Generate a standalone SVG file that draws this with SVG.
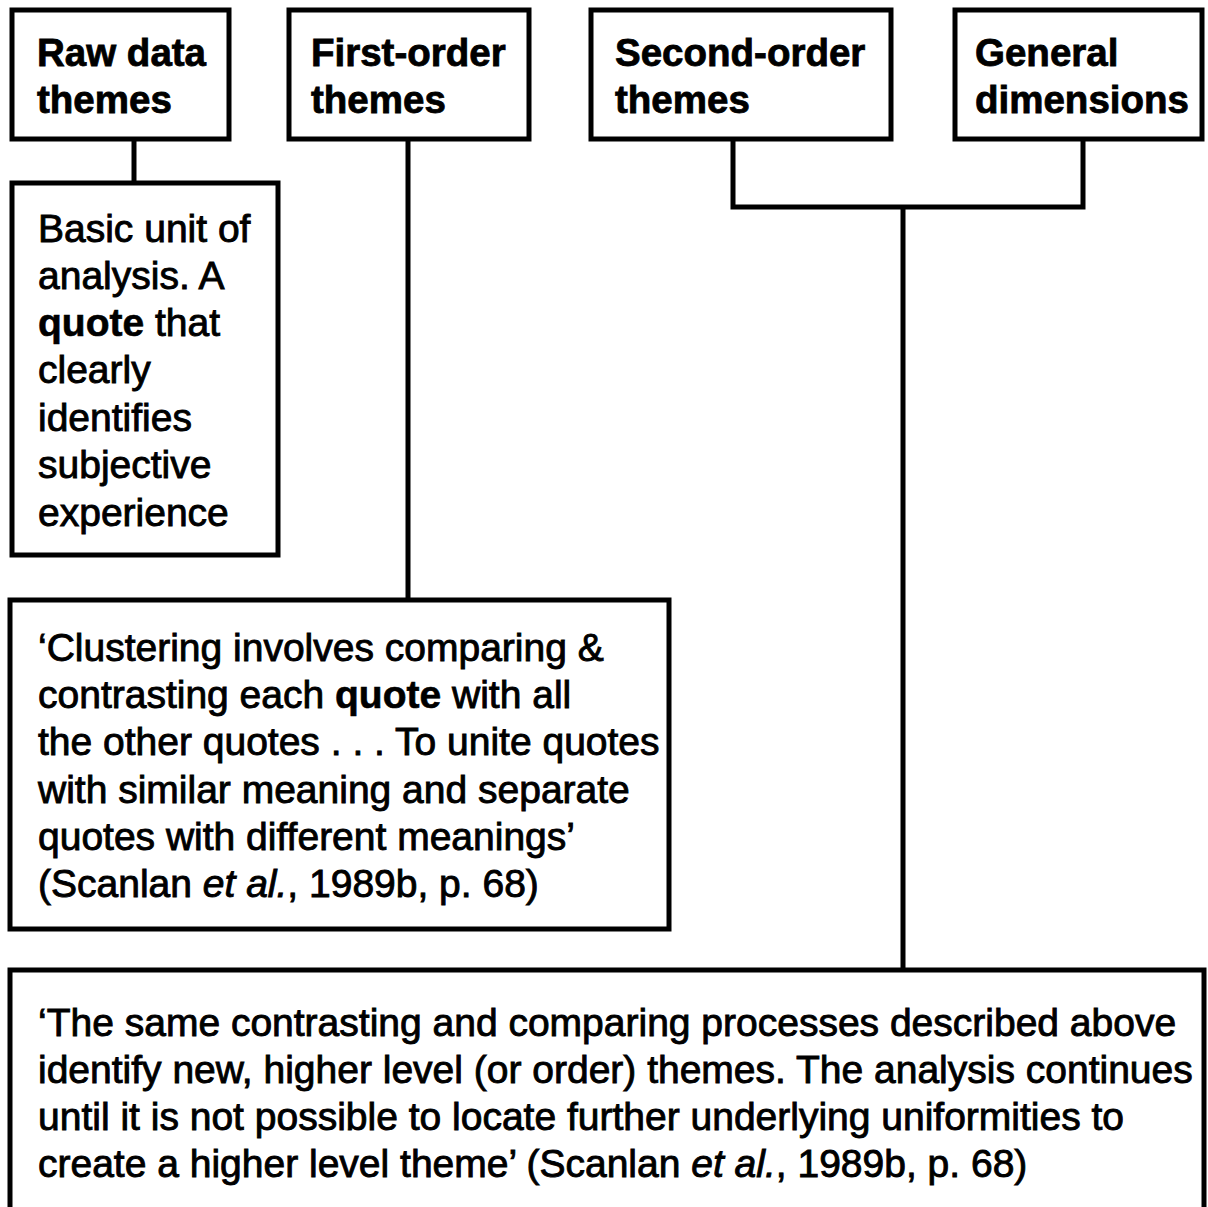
<svg xmlns="http://www.w3.org/2000/svg" width="1208" height="1207" viewBox="0 0 1208 1207">
<style>
.box{fill:#fff;stroke:#000;stroke-width:5}
.con{fill:none;stroke:#000;stroke-width:5}
.h{font-family:"Liberation Sans",Arial,sans-serif;font-weight:bold;font-size:38.5px;fill:#000;stroke:#000;stroke-width:0.8}
.b{font-family:"Liberation Sans",Arial,sans-serif;font-size:39px;fill:#000;stroke:#000;stroke-width:0.9}
.bb{font-weight:bold;stroke-width:0.6}
.it{font-style:italic}
</style>
<rect width="1208" height="1207" fill="#fff"/>
<g id="connectors">
<line class="con" x1="134" y1="141" x2="134" y2="182"/>
<line class="con" x1="408" y1="141" x2="408" y2="600"/>
<path class="con" d="M733 141 V207 H1083 V141"/>
<line class="con" x1="903" y1="207" x2="903" y2="970"/>
</g>
<g id="raw-data-themes">
<rect class="box" x="12" y="10" width="217" height="129"/>
<text class="h" x="37" y="66">Raw data</text>
<text class="h" x="37" y="113">themes</text>
</g>
<g id="first-order-themes">
<rect class="box" x="289" y="10" width="240" height="129"/>
<text class="h" x="311" y="66">First-order</text>
<text class="h" x="311" y="113">themes</text>
</g>
<g id="second-order-themes">
<rect class="box" x="591" y="10" width="300" height="129"/>
<text class="h" x="615" y="66">Second-order</text>
<text class="h" x="615" y="113">themes</text>
</g>
<g id="general-dimensions">
<rect class="box" x="955" y="10" width="247" height="129"/>
<text class="h" x="975" y="66">General</text>
<text class="h" x="975" y="113">dimensions</text>
</g>
<g id="basic-unit">
<rect class="box" x="12" y="183" width="266" height="372"/>
<text class="b" x="38" y="242">Basic unit of</text>
<text class="b" x="38" y="289">analysis. A</text>
<text class="b" x="38" y="336"><tspan class="bb">quote</tspan> that</text>
<text class="b" x="38" y="383">clearly</text>
<text class="b" x="38" y="431">identifies</text>
<text class="b" x="38" y="478">subjective</text>
<text class="b" x="38" y="526">experience</text>
</g>
<g id="clustering">
<rect class="box" x="10" y="600" width="659" height="329"/>
<text class="b" x="38" y="661">‘Clustering involves comparing &amp;</text>
<text class="b" x="38" y="708">contrasting each <tspan class="bb">quote</tspan> with all</text>
<text class="b" x="38" y="755">the other quotes . . . To unite quotes</text>
<text class="b" x="38" y="803">with similar meaning and separate</text>
<text class="b" x="38" y="850">quotes with different meanings’</text>
<text class="b" x="38" y="897">(Scanlan <tspan class="it">et al.</tspan>, 1989b, p. 68)</text>
</g>
<g id="higher-level">
<rect class="box" x="10" y="970" width="1194" height="260"/>
<text class="b" x="38" y="1036">‘The same contrasting and comparing processes described above</text>
<text class="b" x="38" y="1083">identify new, higher level (or order) themes. The analysis continues</text>
<text class="b" x="38" y="1130">until it is not possible to locate further underlying uniformities to</text>
<text class="b" x="38" y="1177">create a higher level theme’ (Scanlan <tspan class="it">et al.</tspan>, 1989b, p. 68)</text>
</g>
</svg>
